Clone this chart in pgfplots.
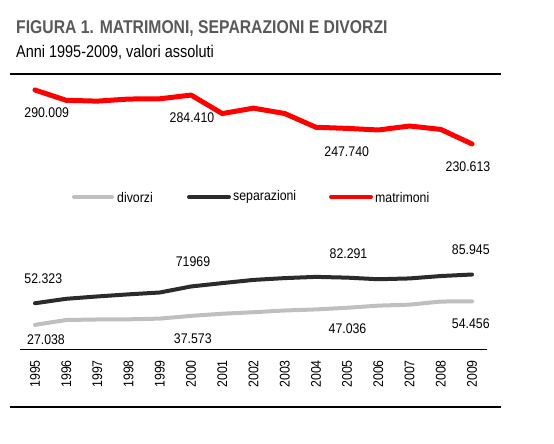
\documentclass[border=0pt]{standalone}
\usepackage{fontspec}
\setmainfont{Liberation Sans}
\newfontfamily\nf{Liberation Sans}[FakeStretch=0.88]
\newfontfamily\tf{Liberation Sans}[FakeStretch=0.85]
\usepackage{pgfplots}
\usepackage{pgfplotstable}
\pgfplotsset{compat=1.18}
\definecolor{matr}{RGB}{255,0,0}
\definecolor{sep}{RGB}{43,43,43}
\definecolor{div}{RGB}{191,191,191}
\definecolor{titgray}{RGB}{89,89,89}

% matrimoni
\pgfplotstableread{
anno valore
1995 290009
1996 278611
1997 277738
1998 280034
1999 280330
2000 284410
2001 264026
2002 270013
2003 264097
2004 248969
2005 247740
2006 245992
2007 250360
2008 246613
2009 230613
}\matrimoni
% separazioni
\pgfplotstableread{
anno valore
1995 52323
1996 57538
1997 60281
1998 62737
1999 64915
2000 71969
2001 75890
2002 79642
2003 81744
2004 83179
2005 82291
2006 80407
2007 81359
2008 84165
2009 85945
}\separazioni
% divorzi
\pgfplotstableread{
anno valore
1995 27038
1996 32717
1997 33342
1998 33510
1999 34341
2000 37573
2001 40051
2002 41835
2003 43856
2004 45097
2005 47036
2006 49534
2007 50669
2008 54351
2009 54456
}\divorzi

\begin{document}
\begin{tikzpicture}
\path[use as bounding box] (0,0) rectangle (554pt,-444pt);

% titolo
\node[anchor=base west, inner sep=0, text=titgray, font=\tf\fontsize{18.5}{20}\selectfont\bfseries]
  at (16pt,-33.3pt) {FIGURA 1. MATRIMONI, SEPARAZIONI E DIVORZI};
\node[anchor=base west, inner sep=0, font=\tf\fontsize{17}{19}\selectfont]
  at (16pt,-57.3pt) {Anni 1995-2009, valori assoluti};
\draw[line width=2.5pt] (9.5pt,-74pt) -- (500.5pt,-74pt);
\draw[line width=2.5pt] (9.5pt,-407pt) -- (500.5pt,-407pt);

% parte alta: matrimoni
\begin{axis}[
  at={(20pt,-153.6pt)}, anchor=south west,
  scale only axis, width=467pt, height=72.7pt,
  xmin=1994.52, xmax=2009.48,
  ymin=220000, ymax=300000,
  hide axis, clip=false,
]
\addplot[color=matr, line width=5pt, line cap=round, line join=round] table[x=anno, y=valore] {\matrimoni};
\end{axis}

% parte bassa: separazioni e divorzi
\begin{axis}[
  at={(20pt,-349.5pt)}, anchor=south west,
  scale only axis, width=467pt, height=87pt,
  xmin=1994.52, xmax=2009.48,
  ymin=-1800, ymax=100000,
  axis y line=none, axis x line=bottom,
  x axis line style={-, line width=1pt},
  xtick={1995,1996,1997,1998,1999,2000,2001,2002,2003,2004,2005,2006,2007,2008,2009},
  xticklabels={1995,1996,1997,1998,1999,2000,2001,2002,2003,2004,2005,2006,2007,2008,2009},
  xtick style={draw=none}, major tick length=0pt,
  xticklabel style={rotate=90, anchor=east, inner sep=0pt,
    font=\nf\fontsize{14}{14}\selectfont},
  xticklabel shift=10.5pt,
  clip=false,
]
\addplot[color=sep, line width=4pt, line cap=round, line join=round] table[x=anno, y=valore] {\separazioni};
\addplot[color=div, line width=4pt, line cap=round, line join=round] table[x=anno, y=valore] {\divorzi};
\end{axis}

% legenda
\draw[div, line width=4pt, line cap=round] (74pt,-197pt) -- (112pt,-197pt);
\node[anchor=west, inner sep=0, font=\nf\fontsize{14}{14}\selectfont] at (117pt,-197pt) {divorzi};
\draw[sep, line width=4pt, line cap=round] (189pt,-197pt) -- (229pt,-197pt);
\node[anchor=west, inner sep=0, font=\nf\fontsize{14}{14}\selectfont] at (233pt,-197pt) {separazioni};
\draw[matr, line width=4pt, line cap=round] (331pt,-197pt) -- (371pt,-197pt);
\node[anchor=west, inner sep=0, font=\nf\fontsize{14}{14}\selectfont] at (375pt,-197pt) {matrimoni};

% etichette dei valori
\begin{scope}[every node/.style={inner sep=0, font=\nf\fontsize{14}{14}\selectfont}]
\node at (46.7pt,-113pt) {290.009};
\node at (192pt,-118pt) {284.410};
\node at (346.7pt,-151.7pt) {247.740};
\node at (468pt,-166.7pt) {230.613};
\node at (43.3pt,-279pt) {52.323};
\node at (193pt,-261.7pt) {71969};
\node at (348.5pt,-253.3pt) {82.291};
\node at (470.8pt,-250pt) {85.945};
\node at (46pt,-340pt) {27.038};
\node at (192.8pt,-338.3pt) {37.573};
\node at (347.5pt,-328.3pt) {47.036};
\node at (470.8pt,-323.3pt) {54.456};
\end{scope}
\end{tikzpicture}
\end{document}
